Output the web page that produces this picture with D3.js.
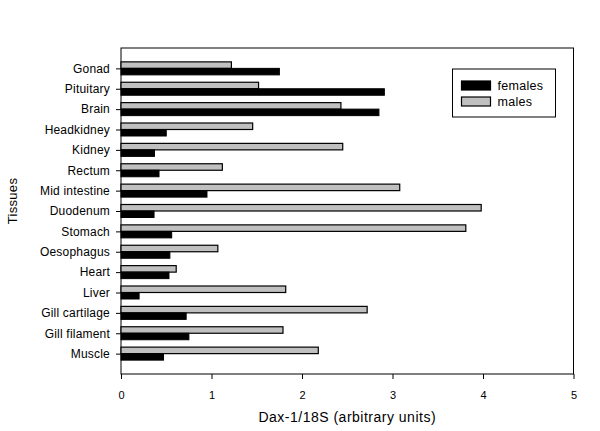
<!DOCTYPE html>
<html>
<head>
<meta charset="utf-8">
<script src="https://cdn.jsdelivr.net/npm/d3@7/dist/d3.min.js"></script>
<style>
  html, body { margin: 0; padding: 0; background: #fff; }
  text { font-family: "Liberation Sans", Arial, sans-serif; fill: #000; }
</style>
</head>
<body>
<div id="chart"></div>
<script>
var tissues = ['Gonad', 'Pituitary', 'Brain', 'Headkidney', 'Kidney', 'Rectum',
  'Mid intestine', 'Duodenum', 'Stomach', 'Oesophagus', 'Heart', 'Liver',
  'Gill cartilage', 'Gill filament', 'Muscle'];
var females = [1.75, 2.91, 2.85, 0.50, 0.37, 0.42, 0.95, 0.365, 0.56, 0.54, 0.53, 0.20, 0.72, 0.75, 0.47];
var males = [1.22, 1.52, 2.43, 1.455, 2.45, 1.12, 3.08, 3.98, 3.81, 1.07, 0.61, 1.82, 2.72, 1.79, 2.18];
var xTicks = [0, 1, 2, 3, 4, 5];

var WIDTH = 600, HEIGHT = 431;
var LEFT = 121, RIGHT = 573.5, TOP = 48, BOTTOM = 374;
var BAR = 6.5;
var GREY = '#c0c0c0';

var svg = d3.select('#chart').append('svg')
  .attr('width', WIDTH)
  .attr('height', HEIGHT);

var x = d3.scaleLinear().domain([0, 5]).range([LEFT, RIGHT]);
var y = d3.scalePoint().domain(tissues).range([TOP, BOTTOM]).padding(1);

// frame
svg.append('rect')
  .attr('x', LEFT).attr('y', TOP)
  .attr('width', RIGHT - LEFT).attr('height', BOTTOM - TOP)
  .attr('fill', 'none').attr('stroke', '#000').attr('stroke-width', 1);

var rows = tissues.map(function(t, i) {
  return { name: t, female: females[i], male: males[i] };
});

var g = svg.selectAll('.row').data(rows).enter()
  .append('g').classed('row', true);

g.append('rect')
  .attr('x', x(0))
  .attr('y', function(d) { return y(d.name) - BAR; })
  .attr('width', function(d) { return x(d.male) - x(0); })
  .attr('height', BAR)
  .attr('fill', GREY)
  .attr('stroke', '#000')
  .attr('stroke-width', 1.2);

g.append('rect')
  .attr('x', x(0))
  .attr('y', function(d) { return y(d.name); })
  .attr('width', function(d) { return x(d.female) - x(0); })
  .attr('height', BAR)
  .attr('fill', '#000')
  .attr('stroke', '#000')
  .attr('stroke-width', 1);

// axes
var xAxis = d3.axisBottom(x).tickValues(xTicks).tickSize(5).tickPadding(12).tickFormat(d3.format('d'));
svg.append('g')
  .attr('transform', 'translate(0,' + BOTTOM + ')')
  .call(xAxis)
  .call(function(a) {
    a.select('.domain').remove();
    a.selectAll('line').attr('stroke', '#000');
    a.selectAll('text').attr('font-size', 11).attr('font-family', '"Liberation Sans", Arial, sans-serif');
  });

var yAxis = d3.axisLeft(y).tickSize(5).tickPadding(6);
svg.append('g')
  .attr('transform', 'translate(' + LEFT + ',0)')
  .call(yAxis)
  .call(function(a) {
    a.select('.domain').remove();
    a.selectAll('line').attr('stroke', '#000');
    a.selectAll('text').attr('font-size', 12).attr('letter-spacing', 0.2)
      .attr('font-family', '"Liberation Sans", Arial, sans-serif');
  });

svg.append('text')
  .attr('x', (LEFT + RIGHT) / 2)
  .attr('y', 422)
  .attr('text-anchor', 'middle')
  .attr('font-size', 14)
  .attr('letter-spacing', 0.5)
  .text('Dax-1/18S (arbitrary units)');

svg.append('text')
  .attr('transform', 'translate(17,201) rotate(-90)')
  .attr('text-anchor', 'middle')
  .attr('font-size', 13)
  .attr('letter-spacing', 0.3)
  .text('Tissues');

// legend
var legend = svg.append('g').attr('transform', 'translate(452.5,69)');
legend.append('rect')
  .attr('width', 103).attr('height', 48)
  .attr('fill', '#fff').attr('stroke', '#000').attr('stroke-width', 1);

var items = [{ label: 'females', fill: '#000' }, { label: 'males', fill: GREY }];
var li = legend.selectAll('.item').data(items).enter()
  .append('g').classed('item', true)
  .attr('transform', function(d, i) { return 'translate(9,' + (12 + i * 16) + ')'; });
li.append('rect')
  .attr('width', 29).attr('height', 9)
  .attr('fill', function(d) { return d.fill; })
  .attr('stroke', '#000').attr('stroke-width', 1.2);
li.append('text')
  .attr('x', 36).attr('y', 9)
  .attr('font-size', 12.5)
  .attr('letter-spacing', 0.3)
  .text(function(d) { return d.label; });
</script>
</body>
</html>
